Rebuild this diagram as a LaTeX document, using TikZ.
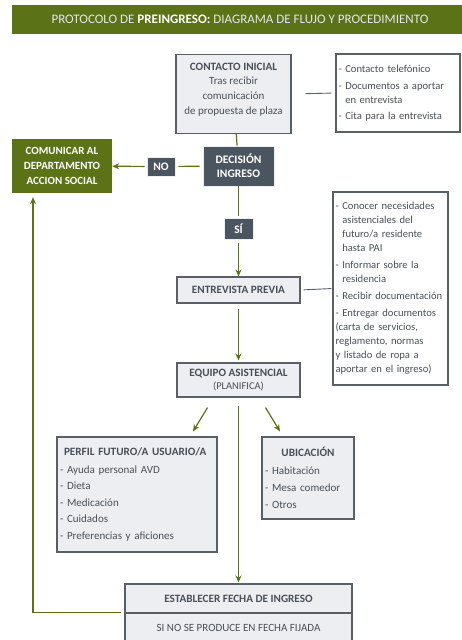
\documentclass[tikz,border=0pt]{standalone}
\usepackage{fontspec}
\setmainfont{Carlito}
\usetikzlibrary{arrows.meta}
\hyphenpenalty=10000
\exhyphenpenalty=10000

\definecolor{oliva}{HTML}{5B7316}
\definecolor{pizarra}{HTML}{4B5560}
\definecolor{gris}{HTML}{ECEEF1}
\definecolor{borde}{HTML}{5A5F66}
\definecolor{texto}{HTML}{4A4F57}
\definecolor{clarito}{HTML}{E2E6EC}

\tikzset{
  caja/.style={draw=borde,line width=1.1pt,fill=gris,text=texto,inner sep=0pt,
    font=\fontsize{11}{15}\selectfont},
  cajagris/.style={caja,align=center},
  notas/.style={caja,align=left,inner xsep=2.5pt,fill=white,
    font=\fontsize{10.6}{14}\selectfont},
  oscura/.style={fill=pizarra,draw=gris,line width=0.6pt,text=white,align=center,inner sep=0pt,
    font=\fontsize{11.5}{14}\selectfont\bfseries},
  verde/.style={fill=oliva,text=white,align=center,inner sep=0pt,
    font=\fontsize{11}{15}\selectfont\bfseries},
  flujo/.style={draw=oliva,line width=1.2pt},
  flecha/.style={flujo,-{Stealth[length=7pt,width=6pt]}},
  enlace/.style={draw=borde,line width=0.9pt}
}
\newcommand{\cab}[1]{{\fontsize{11.2}{15}\selectfont\textbf{#1}}}

\begin{document}
\begin{tikzpicture}[x=1pt,y=-1pt]
\useasboundingbox (0,0) rectangle (462,640);

% cabecera
\fill[oliva] (12,5) rectangle (462,34);
\node[text=clarito,font=\fontsize{13}{15}\selectfont] (titulo) at (240,19.5)
  {PROTOCOLO DE \textbf{\color{white}PREINGRESO:} DIAGRAMA DE FLUJO Y PROCEDIMIENTO};

% nodos
\node[cajagris,minimum width=115,minimum height=79] (contacto) at (233.5,94)
  {\cab{CONTACTO INICIAL}\\[-1pt]Tras recibir\\comunicación\\de propuesta de plaza\\[-4pt]\mbox{}};
\node[notas,text width=119,minimum height=78] (notas1) at (398,93)
  {- Contacto telefónico\\[3pt]
   - Documentos a aportar\\
   \phantom{- }en entrevista\\[2pt]
   - Cita para la entrevista};

\node[oscura,minimum width=71,minimum height=40] (decision) at (238.5,166)
  {DECISIÓN\\INGRESO};
\node[oscura,minimum width=28,minimum height=19] (no) at (161,166.5) {NO};
\node[verde,minimum width=100,minimum height=54] (comunicar) at (62,166)
  {COMUNICAR AL\\DEPARTAMENTO\\ACCION SOCIAL};
\node[oscura,minimum width=29,minimum height=21] (si) at (238.5,228.5) {SÍ};

\node[cajagris,minimum width=123,minimum height=26] (entrevista) at (238.5,290)
  {\cab{ENTREVISTA PREVIA}};
\node[notas,text width=110,minimum height=193] (notas2) at (390.5,288.5)
  {- Conocer necesidades\\
   \phantom{- }asistenciales del\\
   \phantom{- }futuro/a residente\\
   \phantom{- }hasta PAI\\[3pt]
   - Informar sobre la\\
   \phantom{- }residencia\\[3pt]
   - Recibir documentación\\[3pt]
   - Entregar documentos\\
   (carta de servicios,\\
   reglamento, normas\\
   y listado de ropa a\\
   aportar en el ingreso)};

\node[cajagris,minimum width=123,minimum height=34,font=\fontsize{10.5}{13}\selectfont] (equipo) at (238.5,380)
  {\cab{EQUIPO ASISTENCIAL}\\(PLANIFICA)};

\node[caja,align=left,text width=154,inner xsep=3pt,minimum height=115,
  font=\fontsize{11}{16.5}\selectfont] (perfil) at (137,494.5)
  {\hspace*{4pt}\cab{PERFIL FUTURO/A USUARIO/A}\\[1pt]
   - Ayuda personal AVD\\
   - Dieta\\
   - Medicación\\
   - Cuidados\\
   - Preferencias y aficiones};
\node[caja,align=left,text width=86,inner xsep=3pt,minimum height=82,
  font=\fontsize{11}{17}\selectfont] (ubicacion) at (308,478)
  {\makebox[\linewidth]{\cab{UBICACIÓN}}\\[1pt]
   - Habitación\\
   - Mesa comedor\\
   - Otros};

\node[cajagris,minimum width=227,minimum height=29] (establecer) at (238.5,598.5)
  {\cab{ESTABLECER FECHA DE INGRESO}};
\node[cajagris,minimum width=227,minimum height=29] (fijada) at (238.5,627.5)
  {SI NO SE PRODUCE EN FECHA FIJADA};

% conectores
\draw[flujo] (contacto) -- (decision);
\draw[enlace,shorten <=14pt,shorten >=4pt] (contacto.east) -- (notas1.west);
\draw[flujo,shorten <=3pt,shorten >=3pt] (decision) -- (no);
\draw[flecha,shorten <=2pt] (no) -- (comunicar);
\draw[flujo,shorten >=2pt] (decision) -- (si);
\draw[flecha,shorten <=4pt] (si) -- (entrevista);
\draw[enlace,shorten <=3pt,shorten >=1pt] (entrevista.east) -- (notas2.west);
\draw[flecha,shorten <=5pt,shorten >=2pt] (entrevista) -- (equipo);

\draw[flecha] ([shift={(-31,10)}]equipo.south) -- ([shift={(56,-5)}]perfil.north);
\draw[flecha] ([shift={(27,10)}]equipo.south) -- ([shift={(-28,-5)}]ubicacion.north);
\draw[flecha,shorten <=8pt,shorten >=1pt] (equipo) -- (establecer);
\draw[flecha] ([xshift=-3pt]fijada.north west) -| ([shift={(-29,4)}]comunicar.south);

\end{tikzpicture}
\end{document}
